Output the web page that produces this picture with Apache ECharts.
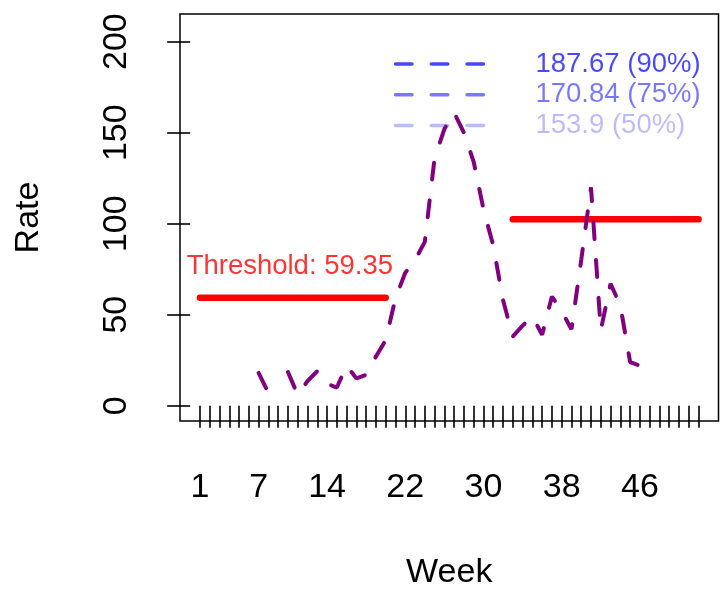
<!DOCTYPE html>
<html>
<head>
<meta charset="utf-8">
<title>Weekly rate</title>
<script src="https://cdn.jsdelivr.net/npm/echarts@6/dist/echarts.min.js"></script>
<style>
  html, body { margin: 0; padding: 0; background: #ffffff; }
  #chart { width: 720px; height: 589px; }
</style>
</head>
<body>
<div id="chart"></div>
<script>
// ---- data ----
const weeks = [1, 2, 3, 4, 5, 6, 7, 8, 9, 10, 11, 12, 13, 14, 15, 16, 17, 18, 19, 20,
  21, 22, 23, 24, 25, 26, 27, 28, 29, 30, 31, 32, 33, 34, 35, 36, 37, 38, 39, 40,
  41, 42, 43, 44, 45, 46, 47, 48, 49, 50, 51, 52];

// weekly rate (null = no report that week)
const rates = [null, null, null, null, null, null, 18, 7, null, 18.5,
  6, 13.5, 19, 12, 10, 22, 15, 17, 27, 36,
  59, 73, 80, 90, 136, 152, 161, 150, 134, 108,
  88, 58, 38, 44, 49, 39, 60, 52, 42, 80,
  120, 41.5, 67, 55, 24, 22, 20.5, null, null, null,
  null, null];

const xTickLabels = [1, 7, 14, 22, 30, 38, 46];
const yTickLabels = [0, 50, 100, 150, 200];

// epidemic thresholds: [first week, last week] and level
const thresholdSpans = [[1, 20], [33, 52]];
const thresholdLevels = [59.35, 102.4];
const thresholdText = 'Threshold: 59.35';

// intensity levels
const levelSpan = [21, 30];
const levelValues = [187.67, 170.84, 153.9];
const levelNames = ['90%', '75%', '50%'];
const levelColors = ['rgba(0,0,255,0.72)', 'rgba(0,0,255,0.53)', 'rgba(0,0,255,0.27)'];

// ---- chart ----
const FONT = "'Liberation Sans', Arial, sans-serif";
const chart = echarts.init(document.getElementById('chart'), null, { renderer: 'canvas' });

const series = [];

thresholdSpans.forEach((span, i) => {
  series.push({
    type: 'line',
    z: 2,
    silent: true,
    symbol: 'none',
    data: [[span[0], thresholdLevels[i]], [span[1], thresholdLevels[i]]],
    lineStyle: { color: '#ff0000', width: 6.5, cap: 'round' }
  });
});

// label above the first threshold segment
series.push({
  type: 'scatter',
  z: 3,
  silent: true,
  symbolSize: 1,
  itemStyle: { color: 'transparent' },
  data: [[(thresholdSpans[0][0] + thresholdSpans[0][1]) / 2, thresholdLevels[0]]],
  label: {
    show: true,
    position: 'top',
    distance: 17,
    offset: [-3, 0],
    formatter: thresholdText,
    color: '#ff0000',
    fontSize: 27.5,
    fontFamily: FONT
  }
});

levelValues.forEach((v, i) => {
  series.push({
    type: 'line',
    z: 2,
    silent: true,
    symbol: 'none',
    data: [[levelSpan[0], v], [levelSpan[1], v]],
    lineStyle: { color: levelColors[i], width: 3.5, type: [16.5, 19.3], cap: 'round' },
    endLabel: {
      show: true,
      distance: 52,
      formatter: v + ' (' + levelNames[i] + ')',
      color: levelColors[i],
      fontSize: 27.5,
      fontFamily: FONT
    }
  });
});

series.push({
  type: 'line',
  z: 5,
  silent: true,
  symbol: 'none',
  connectNulls: false,
  data: weeks.map((w, i) => [w, rates[i]]),
  lineStyle: { color: '#800080', width: 4, type: [17, 21], cap: 'round' }
});

chart.setOption({
  animation: false,
  backgroundColor: '#ffffff',
  grid: {
    left: 180, right: 1.5, top: 14, bottom: 168,
    outerBoundsMode: 'none',
    containLabel: false,
    show: true, borderColor: '#000', borderWidth: 1.5, backgroundColor: 'transparent'
  },
  xAxis: {
    type: 'value',
    min: -1.04,
    max: 54.04,
    axisLine: { show: false },
    splitLine: { show: false },
    axisTick: { show: true, length: 22, customValues: weeks, lineStyle: { color: '#000', width: 1.6 } },
    axisLabel: { customValues: xTickLabels, margin: 49.5, fontSize: 34, color: '#000', fontFamily: FONT },
    name: 'Week',
    nameLocation: 'middle',
    nameGap: 135,
    nameTextStyle: { fontSize: 34, color: '#000', fontFamily: FONT }
  },
  yAxis: {
    type: 'value',
    min: -8.4,
    max: 215.2,
    axisLine: { show: false },
    splitLine: { show: false },
    axisTick: { show: true, length: 23, customValues: yTickLabels, lineStyle: { color: '#000', width: 1.6 } },
    axisLabel: { customValues: yTickLabels, rotate: 90, margin: 46.5, fontSize: 34, color: '#000', fontFamily: FONT },
    name: 'Rate',
    nameLocation: 'middle',
    nameRotate: 90,
    nameGap: 134.5,
    nameTextStyle: { fontSize: 34, color: '#000', fontFamily: FONT }
  },
  series: series
});
</script>
</body>
</html>
